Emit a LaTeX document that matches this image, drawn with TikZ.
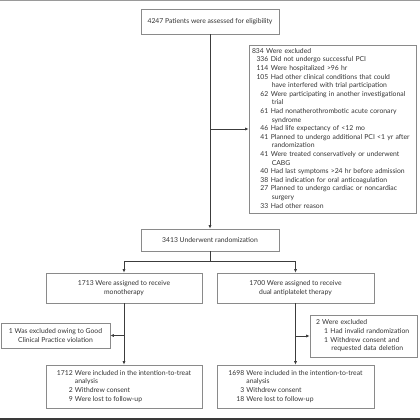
\documentclass[tikz,border=0pt]{standalone}
\usepackage{fontspec}
\setmainfont{Lato}
\usetikzlibrary{arrows.meta}
\definecolor{txt}{HTML}{333333}
\definecolor{boxc}{HTML}{8A8A8A}
\definecolor{linec}{HTML}{3C3C3C}
\definecolor{topc}{HTML}{9A9A9A}
\definecolor{botc}{HTML}{3A3A3A}
\begin{document}
\begin{tikzpicture}[x=1pt,y=-1pt,
  font=\fontsize{6.8}{8.6}\selectfont,
  box/.style={draw=boxc, line width=0.6pt, text=txt, inner sep=0pt, align=center},
  conn/.style={draw=linec, line width=0.7pt},
  arr/.style={conn, -{Latex[length=3.5pt,width=3pt]}}]
\useasboundingbox (0,0) rectangle (420,420);
\fill[white] (0,0) rectangle (420,420);
\fill[topc] (0,0) rectangle (420,1.5);
\fill[botc] (0,418) rectangle (420,420);

\node[box, minimum width=138pt, minimum height=25pt] (top) at (210,21.5)
  {4247 Patients were assessed for eligibility};

\node[box, minimum width=167pt, minimum height=168pt, text width=161pt, align=left] (ex) at (332.5,129)
  {\begin{tabular}{@{\hspace{4.5pt}}r@{\hspace{2.5pt}}l@{}}
   \multicolumn{2}{@{}l@{}}{834 Were excluded}\\
   336 & Did not undergo successful PCI\\
   114 & Were hospitalized >96 hr\\
   105 & Had other clinical conditions that could\\
       & \hspace{1pt}have interfered with trial participation\\
   62 & Were participating in another investigational\\
      & \hspace{1pt}trial\\
   61 & Had nonatherothrombotic acute coronary\\
      & \hspace{1pt}syndrome\\
   46 & Had life expectancy of <12 mo\\
   41 & Planned to undergo additional PCI <1 yr after\\
      & \hspace{1pt}randomization\\
   41 & Were treated conservatively or underwent\\
      & \hspace{1pt}CABG\\
   40 & Had last symptoms >24 hr before admission\\
   38 & Had indication for oral anticoagulation\\
   27 & Planned to undergo cardiac or noncardiac\\
      & \hspace{1pt}surgery\\
   33 & Had other reason
   \end{tabular}};

\node[box, minimum width=138pt, minimum height=22pt] (rand) at (210,240)
  {3413 Underwent randomization};

\node[box, minimum width=156pt, minimum height=30pt] (mono) at (124,288)
  {1713 Were assigned to receive\\monotherapy};
\node[box, minimum width=157pt, minimum height=30pt] (dapt) at (295.5,288)
  {1700 Were assigned to receive\\dual antiplatelet therapy};

\node[box, minimum width=109pt, minimum height=25pt] (exL) at (55.5,335.5)
  {1 Was excluded owing to Good\\Clinical Practice violation};

\node[box, minimum width=107pt, minimum height=42pt, text width=95pt, align=left] (exR) at (363.5,336)
  {\begin{tabular}{@{\hspace{8pt}}r@{\hspace{2.5pt}}l@{}}
   \multicolumn{2}{@{}l@{}}{2 Were excluded}\\
   1 & Had invalid randomization\\
   1 & Withdrew consent and\\
     & \hspace{1pt}requested data deletion
   \end{tabular}};

\node[box, minimum width=156pt, minimum height=43pt] (itL) at (124,386.5)
  {\begin{tabular}{@{}r@{\hspace{2.2pt}}l@{}}
   1712 & Were included in the intention-to-treat\\
        & analysis\\
   2 & Withdrew consent\\
   9 & Were lost to follow-up
   \end{tabular}};
\node[box, minimum width=157pt, minimum height=43pt] (itR) at (295.5,386.5)
  {\begin{tabular}{@{}r@{\hspace{2.2pt}}l@{}}
   1698 & Were included in the intention-to-treat\\
        & analysis\\
   3 & Withdrew consent\\
   18 & Were lost to follow-up
   \end{tabular}};

\coordinate (split) at (210,261);
\draw[arr] (top.south) -- (rand.north);
\draw[arr] (top.south |- ex.west) -- (ex.west);
\draw[conn] (rand.south) -- (split);
\draw[arr] (split) -| (mono.north);
\draw[arr] (split) -| (dapt.north);
\draw[arr] (mono.south) -- (itL.north);
\draw[arr] (mono.south |- exL.east) -- (exL.east);
\draw[arr] (dapt.south) -- (itR.north);
\draw[arr] (dapt.south |- exR.west) -- (exR.west);
\end{tikzpicture}
\end{document}
